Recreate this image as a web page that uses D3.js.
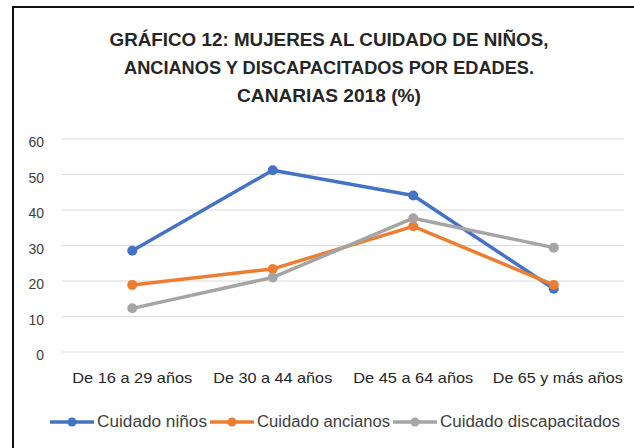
<!DOCTYPE html>
<html>
<head>
<meta charset="utf-8">
<script src="https://cdn.jsdelivr.net/npm/d3@7.9.0/dist/d3.min.js"></script>
<style>
  html, body { margin: 0; padding: 0; background: #fff; }
  svg { display: block; font-family: "Liberation Sans", Arial, sans-serif; }
</style>
</head>
<body>
<svg id="chart" width="634" height="448"></svg>
<script>
// --- Data ---
const categories = ['De 16 a 29 años', 'De 30 a 44 años', 'De 45 a 64 años', 'De 65 y más años'];
const ninos = [28.5, 51.2, 44.1, 17.8];
const ancianos = [18.9, 23.4, 35.4, 18.9];
const discapacitados = [12.3, 21.0, 37.7, 29.4];
const yTicks = [0, 10, 20, 30, 40, 50, 60];
const titleLines = [
  'GRÁFICO 12: MUJERES AL CUIDADO DE NIÑOS,',
  'ANCIANOS Y DISCAPACITADOS POR EDADES.',
  'CANARIAS 2018  (%)'
];

const series = [
  { name: 'Cuidado niños', values: ninos, color: '#4472C4' },
  { name: 'Cuidado ancianos', values: ancianos, color: '#ED7D31' },
  { name: 'Cuidado discapacitados', values: discapacitados, color: '#A5A5A5' }
];

// rough widths of the text runs in the reference (Calibri is narrower than what we have)
const titleWidths = [439, 410, 184];
const catWidths = [120, 119, 120, 130];
const legendWidths = [110, 133, 180];

const svg = d3.select('#chart');

// outer frame (only left and top edges are visible in the crop)
svg.append('path')
  .attr('d', 'M13,448 V7 H634')
  .attr('fill', 'none')
  .attr('stroke', '#111')
  .attr('stroke-width', 2);

// --- Title ---
const title = svg.append('g')
  .attr('font-weight', 'bold')
  .attr('fill', '#262626')
  .attr('text-anchor', 'middle');
titleLines.forEach((t, i) => {
  title.append('text')
    .attr('x', 329)
    .attr('y', 46 + i * 28)
    .attr('font-size', 18.5)
    .attr('textLength', titleWidths[i])
    .attr('lengthAdjust', 'spacingAndGlyphs')
    .text(t);
});

// --- Scales ---
const x = d3.scaleBand().domain(categories).range([62, 624]);
const y = d3.scaleLinear().domain([0, 60]).range([352, 139]);
const cx = c => x(c) + x.bandwidth() / 2;

// Gridlines
svg.append('g')
  .selectAll('line')
  .data(yTicks)
  .join('line')
    .attr('x1', 62).attr('x2', 624)
    .attr('y1', d => y(d)).attr('y2', d => y(d))
    .attr('stroke', '#d9d9d9')
    .attr('stroke-width', 1);

// Y axis labels
svg.append('g')
  .selectAll('text')
  .data(yTicks)
  .join('text')
    .attr('x', 44)
    .attr('y', d => y(d) + 8)
    .attr('text-anchor', 'end')
    .attr('font-size', 14)
    .attr('fill', '#404040')
    .text(d => d);

// X axis labels
svg.append('g')
  .selectAll('text')
  .data(categories)
  .join('text')
    .attr('x', d => cx(d) + (d === categories[3] ? 4 : 0))
    .attr('y', 383)
    .attr('text-anchor', 'middle')
    .attr('font-size', 15)
    .attr('fill', '#262626')
    .attr('textLength', (d, i) => catWidths[i])
    .attr('lengthAdjust', 'spacingAndGlyphs')
    .text(d => d);

// --- Lines & markers ---
const line = d3.line()
  .x((d, i) => cx(categories[i]))
  .y(d => y(d));

series.forEach(s => {
  const g = svg.append('g');
  g.append('path')
    .attr('d', line(s.values))
    .attr('fill', 'none')
    .attr('stroke', s.color)
    .attr('stroke-width', 3.5)
    .attr('stroke-linejoin', 'round')
    .attr('stroke-linecap', 'round');
  g.selectAll('circle')
    .data(s.values)
    .join('circle')
      .attr('cx', (d, i) => cx(categories[i]))
      .attr('cy', d => y(d))
      .attr('r', 5)
      .attr('fill', s.color);
});

// --- Legend ---
const legend = svg.append('g');
let lx = 50;
series.forEach((s, i) => {
  const item = legend.append('g');
  item.append('line')
    .attr('x1', lx).attr('x2', lx + 44)
    .attr('y1', 422).attr('y2', 422)
    .attr('stroke', s.color)
    .attr('stroke-width', 3.5);
  item.append('circle')
    .attr('cx', lx + 22).attr('cy', 422).attr('r', 4.5)
    .attr('fill', s.color);
  item.append('text')
    .attr('x', lx + 47)
    .attr('y', 427)
    .attr('font-size', 16)
    .attr('fill', '#404040')
    .attr('textLength', legendWidths[i])
    .attr('lengthAdjust', 'spacingAndGlyphs')
    .text(s.name);
  lx += 47 + legendWidths[i] + 3;
});
</script>
</body>
</html>
